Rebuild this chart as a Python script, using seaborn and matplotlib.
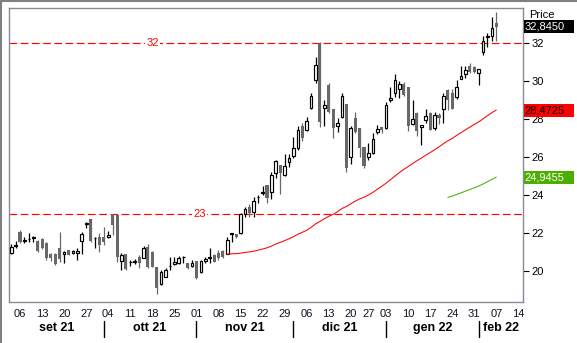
import numpy as np
import pandas as pd
import matplotlib
matplotlib.use("Agg")
import matplotlib.pyplot as plt
import matplotlib.transforms as mtransforms
from matplotlib.patches import Rectangle
from matplotlib.lines import Line2D
import seaborn as sns

# Daily OHLC prices, one entry per trading session starting 2 Sep 2021
opens = [
    20.93, 21.30, 22.07, 21.58, 21.66, 21.75, 21.60, 21.67, 21.50, 20.89,
    20.90, 21.19, 20.89, 21.10, 20.93, 20.93, 21.60, 22.50, 22.72, 21.72,
    21.80, 21.77, 21.77, 23.00, 22.97, 20.53, 20.88, 20.45, 20.50, 20.75,
    20.70, 21.28, 21.00, 20.20, 19.30, 19.70, 20.24, 20.35, 20.40, 20.72,
    20.40, 20.26, 20.53, 19.96, 20.53, 20.70, 20.84, 20.96, 21.07, 20.89,
    21.95, 21.93, 21.98, 23.00, 23.38, 23.12, 23.88, 24.10, 24.53, 24.14,
    25.14, 25.58, 25.05, 25.72, 26.07, 26.46, 27.65, 27.42, 28.60, 30.05,
    32.00, 28.60, 29.79, 28.53, 27.65, 28.09, 28.79, 26.02, 28.04, 27.51,
    26.51, 26.02, 26.23, 27.33, 27.56, 27.51, 29.00, 29.38, 29.58, 29.84,
    29.67, 27.72, 28.33, 27.56, 27.95, 28.30, 27.51, 28.21, 28.53, 29.53,
    29.35, 29.17, 30.10, 30.35, 30.80, 30.75, 30.40, 31.51, 32.30, 32.38, 33.04,
]
highs = [
    21.40, 21.60, 22.15, 21.78, 22.00, 21.85, 21.65, 21.72, 21.55, 20.95,
    20.95, 22.04, 21.05, 21.12, 21.10, 21.20, 22.07, 22.56, 22.74, 21.80,
    21.98, 22.33, 22.10, 23.00, 23.00, 20.93, 20.90, 20.58, 20.63, 20.84,
    21.30, 21.40, 21.05, 20.22, 20.05, 20.14, 20.75, 20.75, 20.80, 20.77,
    20.42, 20.58, 20.55, 20.60, 20.75, 21.19, 20.90, 21.10, 21.10, 21.80,
    22.00, 21.95, 23.05, 23.38, 23.54, 23.88, 24.00, 24.50, 24.55, 25.23,
    25.84, 25.60, 26.14, 26.16, 27.07, 27.65, 27.77, 28.12, 29.35, 31.28,
    32.04, 29.00, 29.88, 28.55, 28.03, 29.38, 28.80, 27.65, 28.35, 27.55,
    26.55, 26.72, 27.25, 27.68, 27.60, 28.91, 29.70, 30.37, 30.02, 29.96,
    29.70, 29.00, 28.35, 27.70, 28.51, 28.35, 28.38, 28.30, 29.35, 29.58,
    29.58, 30.05, 30.80, 30.80, 30.93, 30.80, 30.65, 32.38, 32.51, 33.38, 33.62,
]
lows = [
    20.90, 21.22, 21.50, 21.50, 21.52, 21.52, 21.02, 21.15, 20.60, 20.55,
    20.30, 20.49, 20.40, 20.82, 20.90, 20.58, 20.89, 22.25, 21.55, 21.20,
    21.00, 21.37, 21.72, 21.90, 20.49, 20.05, 20.08, 20.28, 20.35, 20.14,
    20.68, 20.14, 20.20, 18.78, 19.28, 19.68, 20.05, 20.32, 20.35, 20.40,
    20.10, 20.20, 19.60, 19.90, 20.40, 20.40, 20.45, 20.60, 20.70, 20.87,
    21.55, 21.75, 21.95, 22.83, 22.83, 22.83, 23.60, 24.00, 23.56, 23.79,
    24.91, 24.04, 25.00, 25.49, 25.96, 26.37, 26.84, 27.37, 28.53, 29.88,
    27.60, 27.65, 28.30, 27.01, 27.33, 28.04, 25.23, 25.63, 27.25, 26.02,
    25.40, 25.84, 26.16, 27.21, 27.25, 27.47, 28.91, 29.14, 29.12, 29.21,
    27.38, 27.70, 27.10, 26.63, 27.80, 27.40, 27.42, 27.72, 27.77, 28.47,
    28.50, 29.04, 30.08, 30.18, 30.40, 30.44, 29.79, 31.37, 31.81, 32.10, 32.10,
]
closes = [
    21.28, 21.36, 21.55, 21.62, 21.70, 21.78, 21.07, 21.20, 20.67, 20.67,
    20.35, 20.63, 21.02, 20.85, 21.05, 21.07, 21.96, 22.52, 21.60, 21.76,
    21.37, 21.55, 21.90, 22.42, 20.72, 20.84, 20.10, 20.50, 20.53, 20.40,
    21.20, 20.23, 20.23, 19.10, 19.96, 20.05, 20.27, 20.49, 20.68, 20.75,
    20.15, 20.40, 19.62, 20.54, 20.63, 20.74, 20.49, 20.67, 20.72, 21.65,
    21.98, 21.80, 23.00, 23.26, 23.07, 23.68, 23.91, 24.14, 23.86, 25.055,
    25.81, 25.17, 25.52, 25.93, 26.45, 27.40, 26.98, 27.92, 29.20, 30.85,
    27.86, 28.72, 28.35, 27.51, 27.77, 29.22, 25.40, 27.55, 27.33, 26.46,
    25.53, 26.19, 26.95, 27.45, 27.42, 28.75, 29.09, 30.06, 29.85, 29.26,
    27.63, 27.98, 27.38, 27.68, 28.15, 27.42, 28.22, 28.04, 29.22, 29.00,
    28.53, 29.68, 30.26, 30.60, 30.46, 30.49, 30.63, 32.10, 32.37, 32.80, 32.845,
]

market_holidays = ["2021-12-24", "2021-12-31"]
level_lines = [32, 23]
price_ticks = [20, 22, 24, 26, 28, 30, 32]
month_names = ["set 21", "ott 21", "nov 21", "dic 21", "gen 22", "feb 22"]

# trading calendar (sessions continue past the last bar for the time axis)
sessions = pd.bdate_range("2021-09-02", "2022-02-15")
sessions = sessions[~sessions.isin(pd.to_datetime(market_holidays))]

df = pd.DataFrame({
    "date": sessions[:len(closes)],
    "open": opens, "high": highs, "low": lows, "close": closes,
})
df["x"] = np.arange(len(df))
df["ma50"] = df["close"].rolling(50).mean()
df["ma100"] = df["close"].rolling(100).mean()

sns.set_theme(style="white")
plt.rcParams["font.family"] = ["Liberation Sans", "DejaVu Sans"]

W, H = 577, 343
fig = plt.figure(figsize=(W / 100, H / 100), dpi=100)
fig.patch.set_facecolor("white")
ax = fig.add_axes([9 / W, 1 - 302 / H, 514 / W, 294 / H])
ax.set_facecolor("white")
ax.set_xlim(-0.5, 116.05)
ax.set_ylim(18.37, 33.84)

GRAY = "#686868"
up = df[df["close"] >= df["open"]]
down = df[df["close"] < df["open"]]

# candlesticks: grey filled for falling sessions, hollow for rising ones
ax.vlines(down["x"], down["low"], down["high"], color=GRAY, lw=0.9, zorder=2)
ax.vlines(up["x"], up["low"], up["high"], color="black", lw=0.9, zorder=2)
ax.bar(down["x"], down["close"] - down["open"], bottom=down["open"], width=0.7,
       color=GRAY, linewidth=0, zorder=3)
ax.bar(up["x"], up["close"] - up["open"], bottom=up["open"], width=0.6,
       facecolor="white", edgecolor="black", linewidth=0.85, zorder=3)

# moving averages
sns.lineplot(data=df, x="x", y="ma50", color="#ff0000", linewidth=0.75, ax=ax, zorder=4)
sns.lineplot(data=df, x="x", y="ma100", color="#4caf00", linewidth=0.75, ax=ax, zorder=4)
ax.set_xlabel("")
ax.set_ylabel("")

# horizontal price levels
level_tr = mtransforms.blended_transform_factory(ax.transAxes, ax.transData)
for lv, xpos in zip(level_lines, [0.279, 0.371]):
    ax.axhline(lv, color="#ff0000", lw=0.85, ls=(0, (6.5, 3)), zorder=1)
    ax.text(xpos, lv, f"{lv}", transform=level_tr, color="#ff0000", fontsize=8,
            ha="center", va="center", zorder=5,
            bbox=dict(facecolor="white", edgecolor="none", pad=1.0))

# bottom axis: weekly ticks on Mondays
mondays = [i for i, d in enumerate(sessions) if d.weekday() == 0]
ax.set_xticks(mondays)
ax.set_xticklabels([sessions[i].strftime("%d") for i in mondays])
ax.tick_params(axis="x", direction="out", length=3, width=0.8, color="black",
               labelsize=8, pad=2, labelcolor="#111122")

# month separators and month names
month_starts = [i for i in range(1, len(sessions)) if sessions[i].month != sessions[i - 1].month]
sep_tr = mtransforms.blended_transform_factory(ax.transData, fig.transFigure)
for s in month_starts:
    ax.add_line(Line2D([s, s], [1 - 321 / H, 1 - 337 / H], transform=sep_tr,
                       color="black", lw=1.0, clip_on=False))
edges = [ax.get_xlim()[0]] + month_starts + [ax.get_xlim()[1]]
for name, a, b in zip(month_names, edges[:-1], edges[1:]):
    ax.text((a + b) / 2, 1 - 328 / H, name, transform=sep_tr, ha="center", va="center",
            fontsize=9, fontweight="bold", color="black")

# right price axis
ax.yaxis.tick_right()
ax.set_yticks(price_ticks)
ax.set_yticklabels([f"{t}" for t in price_ticks])
ax.tick_params(axis="y", direction="out", length=4, width=0.8, color="black",
               labelsize=8, pad=2, labelcolor="black")

for sp in ax.spines.values():
    sp.set_color("#8a8a96")
    sp.set_linewidth(1.0)
    sp.set_visible(True)

# current value boxes on the price axis
box_tr = mtransforms.blended_transform_factory(fig.transFigure, ax.transData)
box_h = 13 / 19.0
value_boxes = [
    (df["close"].iloc[-1], "black", "white"),
    (df["ma50"].iloc[-1], "#ff0000", "black"),
    (df["ma100"].iloc[-1], "#4caf00", "white"),
]
for v, fc, tc in value_boxes:
    ax.add_patch(Rectangle((523.5 / W, v - box_h / 2), 50.5 / W, box_h, transform=box_tr,
                           facecolor=fc, edgecolor="none", clip_on=False, zorder=6))
    ax.text(524.5 / W, v, f"{v:.4f}".replace(".", ","), transform=box_tr, color=tc,
            fontsize=8, ha="left", va="center", zorder=7, clip_on=False)

fig.text(529 / W, 1 - 15 / H, "Price", fontsize=8, ha="left", va="center", color="black")

# window frame along top and left edges
fig.add_artist(Line2D([0, 1], [1 - 1 / H, 1 - 1 / H], transform=fig.transFigure,
                      color="#808080", lw=1.5))
fig.add_artist(Line2D([1 / W, 1 / W], [0, 1], transform=fig.transFigure,
                      color="#808080", lw=1.5))

fig.savefig("out.png", dpi=100, facecolor="white")
